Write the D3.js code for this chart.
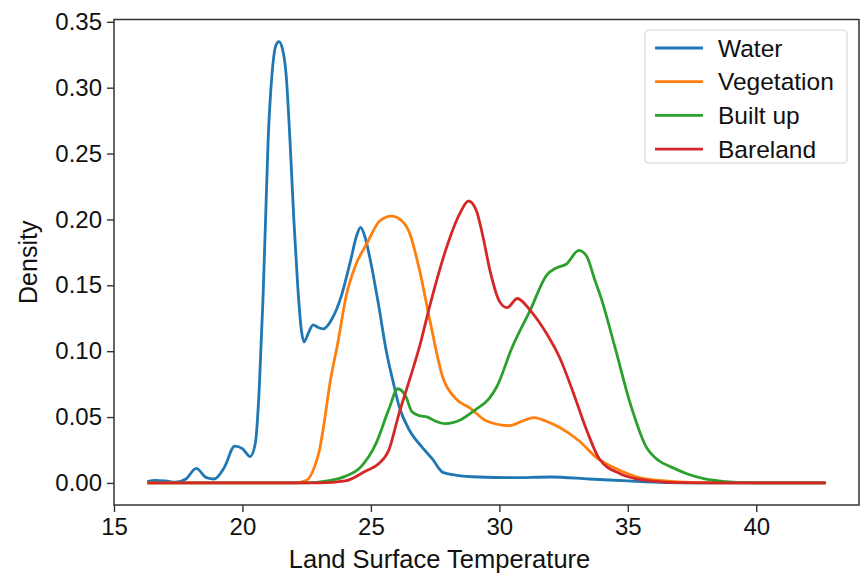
<!DOCTYPE html>
<html>
<head>
<meta charset="utf-8">
<script src="https://cdn.jsdelivr.net/npm/d3@7"></script>
<style>
  body { margin: 0; background: #fff; }
  svg { font-family: "Liberation Sans", Arial, sans-serif; }
</style>
</head>
<body>
<div id="chart"></div>
<script>

// density curves, [temperature, density]
var water = [
    [16.3, 0.001], [16.6, 0.002], [17.0, 0.0015], [17.4, 0.0005], [17.8, 0.003],
    [18.2, 0.011], [18.6, 0.004], [18.9, 0.003], [19.3, 0.012], [19.7, 0.028],
    [20.0, 0.026], [20.3, 0.020], [20.5, 0.030], [20.65, 0.07], [20.8, 0.14],
    [20.9, 0.2], [21.0, 0.26], [21.15, 0.31], [21.3, 0.332], [21.42, 0.335],
    [21.55, 0.33], [21.7, 0.31], [21.85, 0.26], [22.0, 0.20], [22.15, 0.15],
    [22.3, 0.115], [22.4, 0.107], [22.55, 0.113], [22.75, 0.120], [22.95, 0.118],
    [23.15, 0.117], [23.5, 0.125], [23.85, 0.142], [24.2, 0.168], [24.45, 0.188],
    [24.6, 0.194], [24.75, 0.188], [25.0, 0.167], [25.3, 0.135], [25.6, 0.100],
    [25.85, 0.078], [26.1, 0.058], [26.5, 0.040], [27.0, 0.027], [27.4, 0.018],
    [27.8, 0.008], [28.3, 0.006], [29.2, 0.0045], [30.5, 0.004], [32.0, 0.0045],
    [33.5, 0.003], [35.0, 0.0015], [36.5, 0.0003], [38.0, 0], [42.7, 0]
];

var vegetation = [
    [16.3, 0], [22.0, 0], [22.5, 0.002], [22.8, 0.012], [23.0, 0.025],
    [23.2, 0.048], [23.4, 0.075], [23.7, 0.105], [24.05, 0.143], [24.4, 0.165],
    [24.85, 0.182], [25.35, 0.199], [25.8, 0.2025], [26.2, 0.199], [26.5, 0.190],
    [26.9, 0.161], [27.3, 0.123], [27.8, 0.080], [28.3, 0.064], [28.85, 0.057],
    [29.5, 0.047], [30.4, 0.0435], [30.9, 0.047], [31.35, 0.0495], [31.8, 0.047],
    [32.35, 0.042], [33.1, 0.032], [33.8, 0.019], [34.7, 0.0095], [35.7, 0.003],
    [37.0, 0.0008], [38.5, 0], [42.7, 0]
];

var builtUp = [
    [16.3, 0], [22.5, 0], [23.3, 0.0015], [24.0, 0.005], [24.6, 0.012],
    [25.2, 0.030], [25.7, 0.056], [26.05, 0.0715], [26.35, 0.066], [26.6, 0.054],
    [26.9, 0.051], [27.2, 0.050], [27.5, 0.047], [27.9, 0.045], [28.5, 0.048],
    [29.1, 0.056], [29.6, 0.064], [29.9, 0.073], [30.5, 0.103], [31.2, 0.131],
    [31.85, 0.158], [32.2, 0.163], [32.6, 0.166], [33.1, 0.1765], [33.4, 0.172],
    [33.7, 0.155], [34.0, 0.138], [34.5, 0.103], [35.1, 0.060], [35.7, 0.028],
    [36.2, 0.017], [36.7, 0.012], [37.3, 0.007], [38.0, 0.003], [38.8, 0.001],
    [40.0, 0], [42.7, 0]
];

var bareland = [
    [16.3, 0], [23.0, 0], [24.0, 0.0015], [24.8, 0.009], [25.3, 0.0145],
    [25.7, 0.025], [26.1, 0.053], [26.5, 0.078], [26.9, 0.104], [27.3, 0.135],
    [27.95, 0.179], [28.45, 0.204], [28.8, 0.214], [29.1, 0.207], [29.35, 0.188],
    [29.65, 0.160], [30.0, 0.138], [30.3, 0.133], [30.7, 0.140], [31.2, 0.131],
    [31.85, 0.113], [32.35, 0.095], [32.85, 0.070], [33.4, 0.040], [33.9, 0.018],
    [34.7, 0.007], [35.7, 0.002], [37.0, 0.0003], [38.5, 0], [42.7, 0]
];

var seriesNames = ["Water", "Vegetation", "Built up", "Bareland"];
var seriesData = [water, vegetation, builtUp, bareland];
var seriesColors = ["#1f77b4", "#ff7f0e", "#2ca02c", "#d62728"];

var xTicks = [15, 20, 25, 30, 35, 40];
var yTicks = [0, 0.05, 0.10, 0.15, 0.20, 0.25, 0.30, 0.35];

function drawChart() {
    var width = 861,
        height = 576,
        plotLeft = 114,
        plotRight = 859,
        plotTop = 19.5,
        plotBottom = 505;

    var svg = d3.select("#chart").append("svg")
        .attr("width", width)
        .attr("height", height);

    var x = d3.scaleLinear().domain([15, 44.0]).range([plotLeft, plotRight]);
    var y = d3.scaleLinear().domain([-0.01675, 0.35175]).range([plotBottom, plotTop]);

    var line = d3.line()
        .x(function (d) { return x(d[0]); })
        .y(function (d) { return y(d[1]); })
        .curve(d3.curveMonotoneX);

    var plot = svg.append("g");

    seriesData.forEach(function (s, i) {
        plot.append("path")
            .datum(s)
            .attr("d", line)
            .attr("fill", "none")
            .attr("stroke", seriesColors[i])
            .attr("stroke-width", 2.8)
            .attr("stroke-linejoin", "round");
    });

    // axes
    var xAxis = svg.append("g")
        .attr("transform", "translate(0," + plotBottom + ")")
        .call(d3.axisBottom(x).tickValues(xTicks).tickSize(7).tickPadding(6)
            .tickFormat(d3.format("d")));

    var yAxis = svg.append("g")
        .attr("transform", "translate(" + plotLeft + ",0)")
        .call(d3.axisLeft(y).tickValues(yTicks).tickSize(7).tickPadding(5)
            .tickFormat(d3.format(".2f")));

    [xAxis, yAxis].forEach(function (a) {
        a.select(".domain").remove();
        a.selectAll(".tick line").attr("stroke", "#333").attr("stroke-width", 1.4);
        a.selectAll(".tick text")
            .attr("fill", "#111")
            .style("font-size", "24px")
            .style("font-family", "'Liberation Sans', Arial, sans-serif");
    });

    // frame
    svg.append("rect")
        .attr("x", plotLeft)
        .attr("y", plotTop)
        .attr("width", plotRight - plotLeft)
        .attr("height", plotBottom - plotTop)
        .attr("fill", "none")
        .attr("stroke", "#333")
        .attr("stroke-width", 1.5);

    svg.append("text")
        .attr("x", (plotLeft + plotRight) / 2 - 47)
        .attr("y", 568)
        .attr("text-anchor", "middle")
        .attr("fill", "#111")
        .style("font-size", "25.5px")
        .text("Land Surface Temperature");

    svg.append("text")
        .attr("transform", "translate(37," + (plotTop + plotBottom) / 2 + ") rotate(-90)")
        .attr("text-anchor", "middle")
        .attr("fill", "#111")
        .style("font-size", "25px")
        .text("Density");

    // legend
    var legend = svg.append("g");

    legend.append("rect")
        .attr("x", 645)
        .attr("y", 30)
        .attr("width", 202)
        .attr("height", 133)
        .attr("rx", 4)
        .attr("fill", "#fff")
        .attr("fill-opacity", 0.85)
        .attr("stroke", "#d6d6d6")
        .attr("stroke-width", 1.2);

    seriesNames.forEach(function (name, i) {
        var ly = 48 + i * 33.7;
        legend.append("line")
            .attr("x1", 655)
            .attr("x2", 703)
            .attr("y1", ly)
            .attr("y2", ly)
            .attr("stroke", seriesColors[i])
            .attr("stroke-width", 2.8);
        legend.append("text")
            .attr("x", 718)
            .attr("y", ly + 8.5)
            .attr("fill", "#111")
            .style("font-size", "24.5px")
            .text(name);
    });
}

drawChart();

</script>
</body>
</html>
